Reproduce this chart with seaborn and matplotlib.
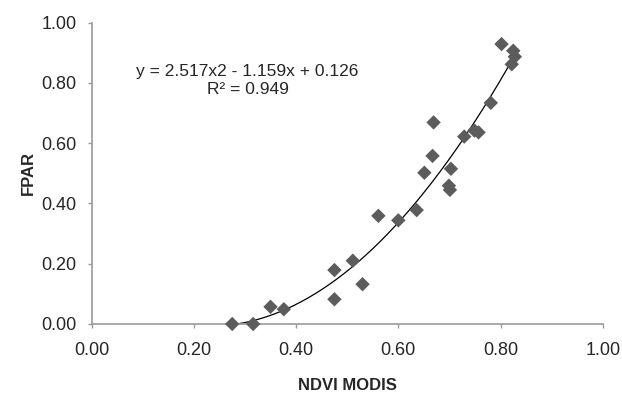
import numpy as np
import pandas as pd
import seaborn as sns
import matplotlib.pyplot as plt

# NDVI MODIS vs FPAR points
ndvi = [0.275, 0.316, 0.350, 0.376, 0.475, 0.475, 0.511, 0.530, 0.561, 0.600,
        0.636, 0.651, 0.667, 0.669, 0.703, 0.699, 0.701, 0.729, 0.749, 0.757,
        0.781, 0.802, 0.825, 0.828, 0.822]
fpar = [0.000, 0.000, 0.057, 0.049, 0.179, 0.082, 0.210, 0.132, 0.359, 0.344,
        0.378, 0.502, 0.558, 0.669, 0.515, 0.459, 0.445, 0.622, 0.642, 0.636,
        0.734, 0.929, 0.907, 0.887, 0.862]

# polynomial trendline shown on the chart
coef = [2.517, -1.159, 0.126]
r2 = 0.949

ticks = [0.0, 0.2, 0.4, 0.6, 0.8, 1.0]
tick_labels = ["0.00", "0.20", "0.40", "0.60", "0.80", "1.00"]

df = pd.DataFrame({"NDVI": ndvi, "FPAR": fpar})

sns.set_style("ticks")
plt.rcParams['font.family'] = ['Liberation Sans', 'DejaVu Sans']

fig = plt.figure(figsize=(6.22, 3.94), dpi=100)
ax = fig.add_axes([0.1474, 0.1777, 0.8216, 0.7647])

#trendline
xs = np.linspace(min(ndvi), max(ndvi), 200)
trend = pd.DataFrame({"x": xs, "y": np.polyval(coef, xs)})
sns.lineplot(data=trend, x="x", y="y", ax=ax, color="black", linewidth=0.9)

#points
sns.scatterplot(data=df, x="NDVI", y="FPAR", ax=ax, marker="D", s=54,
                color="#5c5c5c", edgecolor="none", zorder=3, clip_on=False)

ax.set_xlim(0, 1)
ax.set_ylim(0, 1)
ax.set_xticks(ticks)
ax.set_xticklabels(tick_labels)
ax.set_yticks(ticks)
ax.set_yticklabels(tick_labels)
ax.tick_params(axis="x", length=3, width=1, color="#9a9a9a", pad=10, labelsize=13)
ax.tick_params(axis="y", length=3, width=1, color="#9a9a9a", pad=8, labelsize=13)

for s in ["top", "right"]:
    ax.spines[s].set_visible(False)
for s in ["left", "bottom"]:
    ax.spines[s].set_color("#9a9a9a")
    ax.spines[s].set_linewidth(1.2)

ax.set_xlabel("NDVI MODIS", fontsize=12, fontweight="bold", labelpad=14)
ax.set_ylabel("FPAR", fontsize=12, fontweight="bold", labelpad=4)

eq = "y = %.3fx2 - %.3fx + %.3f\nR² = %.3f" % (coef[0], -coef[1], coef[2], r2)
ax.text(0.305, 0.807, eq, ha="center", va="center", fontsize=12.5,
        linespacing=1.25, transform=ax.transData)

fig.savefig("out.png", dpi=100)
